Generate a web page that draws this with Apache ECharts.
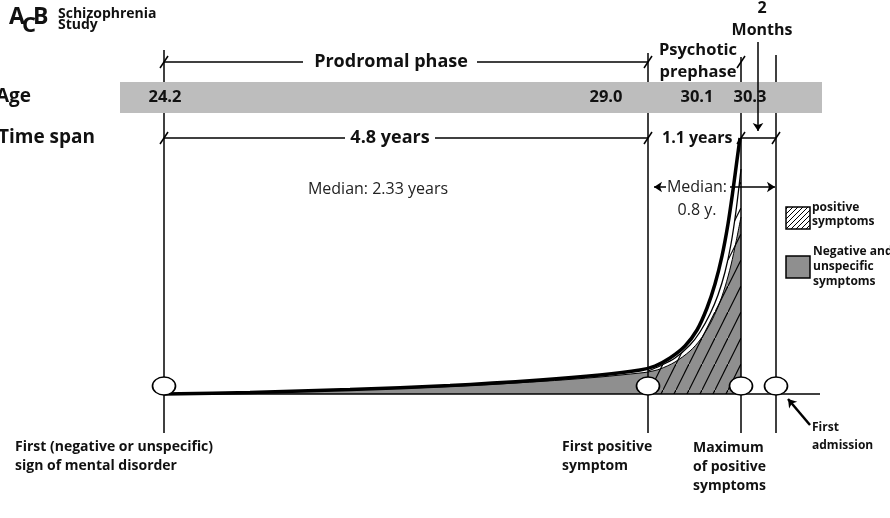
<!DOCTYPE html>
<html>
<head>
<meta charset="utf-8">
<script src="https://cdn.jsdelivr.net/npm/echarts@6/dist/echarts.min.js"></script>
<style>
html, body { margin: 0; padding: 0; background: #fff; }
#chart { width: 890px; height: 518px; }
</style>
</head>
<body>
<div id="chart"></div>
<script>
// diagram units: x = 10px from the left, y = 10px above the time line

// milestones on the time line
var milestoneX = [16.4, 64.8, 74.1, 77.6];
var milestoneTop = [34.4, 34.1, 33.7, 33.9];
var milestoneBottom = -3.9;
var milestoneLabels = [
    'First (negative or unspecific)\nsign of mental disorder',
    'First positive\nsymptom',
    'Maximum\nof positive\nsymptoms',
    'First\nadmission'
];
var milestoneLabelX = [1.5, 56.2, 69.3, 81.2];
var milestoneLabelY = [-4.35, -4.35, -4.4, -2.5];

// age row
var ageValues = ['24.2', '29.0', '30.1', '30.3'];
var ageLabelX = [16.5, 60.6, 69.7, 75.0];

// phases / spans
var phaseLabels = ['Prodromal phase', 'Psychotic\nprephase'];
var spanLabels = ['4.8 years', '1.1 years', '2\nMonths'];
var medianLabels = ['Median: 2.33 years', 'Median:\n0.8 y.'];

// curves
var totalX = [16.4, 25.0, 35.0, 45.0, 54.0, 60.0, 64.0, 65.5, 67.0, 68.5, 69.7, 70.7, 71.5, 72.2, 72.8, 73.3, 73.7, 74.0];
var totalY = [0, 0.15, 0.45, 0.85, 1.4, 1.9, 2.4, 2.8, 3.6, 4.8, 6.4, 8.6, 11.0, 13.8, 17.0, 20.4, 23.4, 25.6];
var positiveX = [64.8, 66.0, 67.5, 69.0, 70.0, 71.0, 71.8, 72.5, 73.1, 73.6, 74.1];
var positiveY = [2.3, 2.8, 3.6, 4.9, 6.2, 8.0, 9.9, 12.2, 15.0, 18.3, 22.5];
var negativeX = [16.4, 25.0, 35.0, 45.0, 54.0, 60.0, 64.0, 64.8, 66.0, 67.5, 69.0, 70.0, 71.0, 71.8, 72.5, 73.1, 73.6, 74.1];
var negativeY = [0, 0.12, 0.4, 0.75, 1.25, 1.7, 2.1, 2.2, 2.5, 3.2, 4.3, 5.4, 7.0, 8.7, 10.7, 12.9, 15.2, 17.7];

var FONT = '"Open Sans", "DejaVu Sans", sans-serif';

function zip(xs, ys) {
    return xs.map(function (x, i) { return [x, ys[i]]; });
}

/**
 * 斜线填充
 */
function makeHatch(w, h, lw) {
    var c = document.createElement('canvas');
    c.width = w; c.height = h;
    var ctx = c.getContext('2d');
    ctx.strokeStyle = '#000';
    ctx.lineWidth = lw;
    ctx.beginPath();
    ctx.moveTo(-w * 0.2, h * 1.2);
    ctx.lineTo(w * 1.2, -h * 0.2);
    ctx.stroke();
    return c;
}
var hatch = makeHatch(13, 26, 1.2);
var legendHatch = makeHatch(5, 5, 1);

// frame lines: milestone verticals + brackets
var frameLines = [];
milestoneX.forEach(function (x, i) {
    frameLines.push({ coords: [[x, milestoneTop[i]], [x, milestoneBottom]] });
});
var rowPhase = 33.2, rowSpan = 25.6;
[[16.4, 30.3], [47.7, 64.8]].forEach(function (s) {
    frameLines.push({ coords: [[s[0], rowPhase], [s[1], rowPhase]] });
});
[[16.4, 34.5], [43.5, 64.8], [74.1, 77.6]].forEach(function (s) {
    frameLines.push({ coords: [[s[0], rowSpan], [s[1], rowSpan]] });
});

var arrowLines = [
    { coords: [[75.8, 35.2], [75.8, 26.3]] },
    { coords: [[66.6, 20.7], [65.4, 20.7]] },
    { coords: [[73.0, 20.7], [77.5, 20.7]] },
    { coords: [[81.0, -3.1], [78.8, -0.5]], lineStyle: { width: 2.5 } }
];

var ticks = [[16.4, rowPhase], [64.8, rowPhase], [74.1, rowPhase],
             [16.4, rowSpan], [64.8, rowSpan], [74.1, rowSpan], [77.6, rowSpan]];

// text items
var texts = [];
texts.push({ x: 39.1, y: rowPhase, text: phaseLabels[0], size: 18, bold: true });
texts.push({ x: 69.8, y: 33.25, text: phaseLabels[1], size: 16.5, bold: true, lh: 22 });
texts.push({ x: 39.0, y: rowSpan, text: spanLabels[0], size: 18, bold: true });
texts.push({ x: 66.2, y: rowSpan, text: spanLabels[1], size: 16, bold: true, align: 'left' });
texts.push({ x: 76.2, y: 37.5, text: spanLabels[2], size: 16, bold: true, lh: 22 });
texts.push({ x: 37.8, y: 20.5, text: medianLabels[0], size: 16, color: '#222' });
texts.push({ x: 69.7, y: 19.55, text: medianLabels[1], size: 16, color: '#222', lh: 23 });
ageValues.forEach(function (v, i) {
    texts.push({ x: ageLabelX[i], y: 29.7, text: v, size: 16.5, bold: true });
});
milestoneLabels.forEach(function (v, i) {
    var small = i === 3;
    texts.push({ x: milestoneLabelX[i], y: milestoneLabelY[i], text: v,
        size: small ? 12 : 14, bold: true, align: 'left', vAlign: 'top',
        lh: small ? 18 : 19.3 });
});

var chart = echarts.init(document.getElementById('chart'));

chart.setOption({
    animation: false,
    backgroundColor: '#fff',
    grid: { left: 0, right: 0, top: 0, bottom: 0 },
    xAxis: { type: 'value', min: 0, max: 89, show: false },
    yAxis: { type: 'value', min: -12.4, max: 39.4, show: false },
    graphic: [
        // logo
        { type: 'text', left: 9, top: 6, style: { text: 'A', font: 'bold 23px ' + FONT, fill: '#111' } },
        { type: 'text', left: 22, top: 15, style: { text: 'C', font: 'bold 22px ' + FONT, fill: '#111' } },
        { type: 'text', left: 33, top: 6, style: { text: 'B', font: 'bold 23px ' + FONT, fill: '#111' } },
        { type: 'text', left: 58, top: 7, style: { text: 'Schizophrenia', font: 'bold 14px ' + FONT, fill: '#111' } },
        { type: 'text', left: 58, top: 18, style: { text: 'Study', font: 'bold 14px ' + FONT, fill: '#111' } },
        // row labels
        { type: 'text', x: -4, y: 97, style: { text: 'Age', font: 'bold 19px ' + FONT, fill: '#111', verticalAlign: 'middle' } },
        { type: 'text', x: -2, y: 138, style: { text: 'Time span', font: 'bold 19px ' + FONT, fill: '#111', verticalAlign: 'middle' } },
        // legend
        { type: 'rect', shape: { x: 786, y: 207, width: 24, height: 22 },
          style: { fill: { image: legendHatch, repeat: 'repeat' }, stroke: '#000', lineWidth: 1.5 } },
        { type: 'text', x: 812, y: 215, style: { text: 'positive\nsymptoms', font: 'bold 12px ' + FONT, fill: '#111', verticalAlign: 'middle', lineHeight: 14 } },
        { type: 'rect', shape: { x: 786, y: 256, width: 24, height: 22 },
          style: { fill: '#8f8f8f', stroke: '#000', lineWidth: 1.5 } },
        { type: 'text', x: 813, y: 267, style: { text: 'Negative and\nunspecific\nsymptoms', font: 'bold 12px ' + FONT, fill: '#111', verticalAlign: 'middle', lineHeight: 15 } }
    ],
    series: [
        {
            name: 'Negative and unspecific symptoms',
            type: 'line', z: 2, symbol: 'none', smooth: 0.3,
            data: zip(negativeX, negativeY),
            lineStyle: { color: '#000', width: 1 },
            areaStyle: { color: '#8f8f8f', opacity: 1 }
        },
        {
            name: 'positive symptoms',
            type: 'line', z: 2, symbol: 'none', smooth: 0.3,
            data: zip(positiveX, positiveY),
            lineStyle: { color: '#000', width: 1.3 },
            areaStyle: { color: { image: hatch, repeat: 'repeat' }, opacity: 1 }
        },
        {
            name: 'total',
            type: 'line', z: 3, symbol: 'none', smooth: 0.3,
            data: zip(totalX, totalY),
            lineStyle: { color: '#000', width: 3.5 }
        },
        {
            name: 'baseline',
            type: 'line', z: 3, symbol: 'none',
            data: [[16.4, 0], [82.0, 0]],
            lineStyle: { color: '#000', width: 1.5 }
        },
        {
            type: 'lines', coordinateSystem: 'cartesian2d', z: 3,
            data: frameLines,
            lineStyle: { color: '#000', width: 1.5, opacity: 1 }
        },
        {
            type: 'custom', z: 4,
            data: [[12.0, 31.2, 82.2, 28.1]],
            renderItem: function (params, api) {
                var p1 = api.coord([api.value(0), api.value(1)]);
                var p2 = api.coord([api.value(2), api.value(3)]);
                return { type: 'rect', shape: { x: p1[0], y: p1[1], width: p2[0] - p1[0], height: p2[1] - p1[1] },
                         style: { fill: '#bdbdbd' } };
            }
        },
        {
            type: 'lines', coordinateSystem: 'cartesian2d', z: 5,
            symbol: ['none', 'arrow'], symbolSize: 8,
            data: arrowLines,
            lineStyle: { color: '#000', width: 1.5, opacity: 1 }
        },
        {
            type: 'custom', z: 5,
            data: ticks,
            renderItem: function (params, api) {
                var p = api.coord([api.value(0), api.value(1)]);
                return { type: 'line', shape: { x1: p[0] - 4, y1: p[1] + 6, x2: p[0] + 4, y2: p[1] - 6 },
                         style: { stroke: '#000', lineWidth: 1.5 } };
            }
        },
        {
            type: 'scatter', z: 6,
            data: milestoneX.map(function (x) { return [x, 0.8]; }),
            symbol: 'circle', symbolSize: [23, 18],
            itemStyle: { color: '#fff', borderColor: '#000', borderWidth: 1.5, opacity: 1 }
        },
        {
            type: 'custom', z: 7,
            data: texts.map(function (t) { return [t.x, t.y]; }),
            renderItem: function (params, api) {
                var t = texts[params.dataIndex];
                var p = api.coord([api.value(0), api.value(1)]);
                return {
                    type: 'text', x: p[0], y: p[1],
                    style: {
                        text: t.text,
                        font: (t.bold ? 'bold ' : '') + t.size + 'px ' + FONT,
                        fill: t.color || '#111',
                        align: t.align || 'center',
                        verticalAlign: t.vAlign || 'middle',
                        lineHeight: t.lh || t.size * 1.2
                    }
                };
            }
        }
    ]
});
</script>
</body>
</html>
